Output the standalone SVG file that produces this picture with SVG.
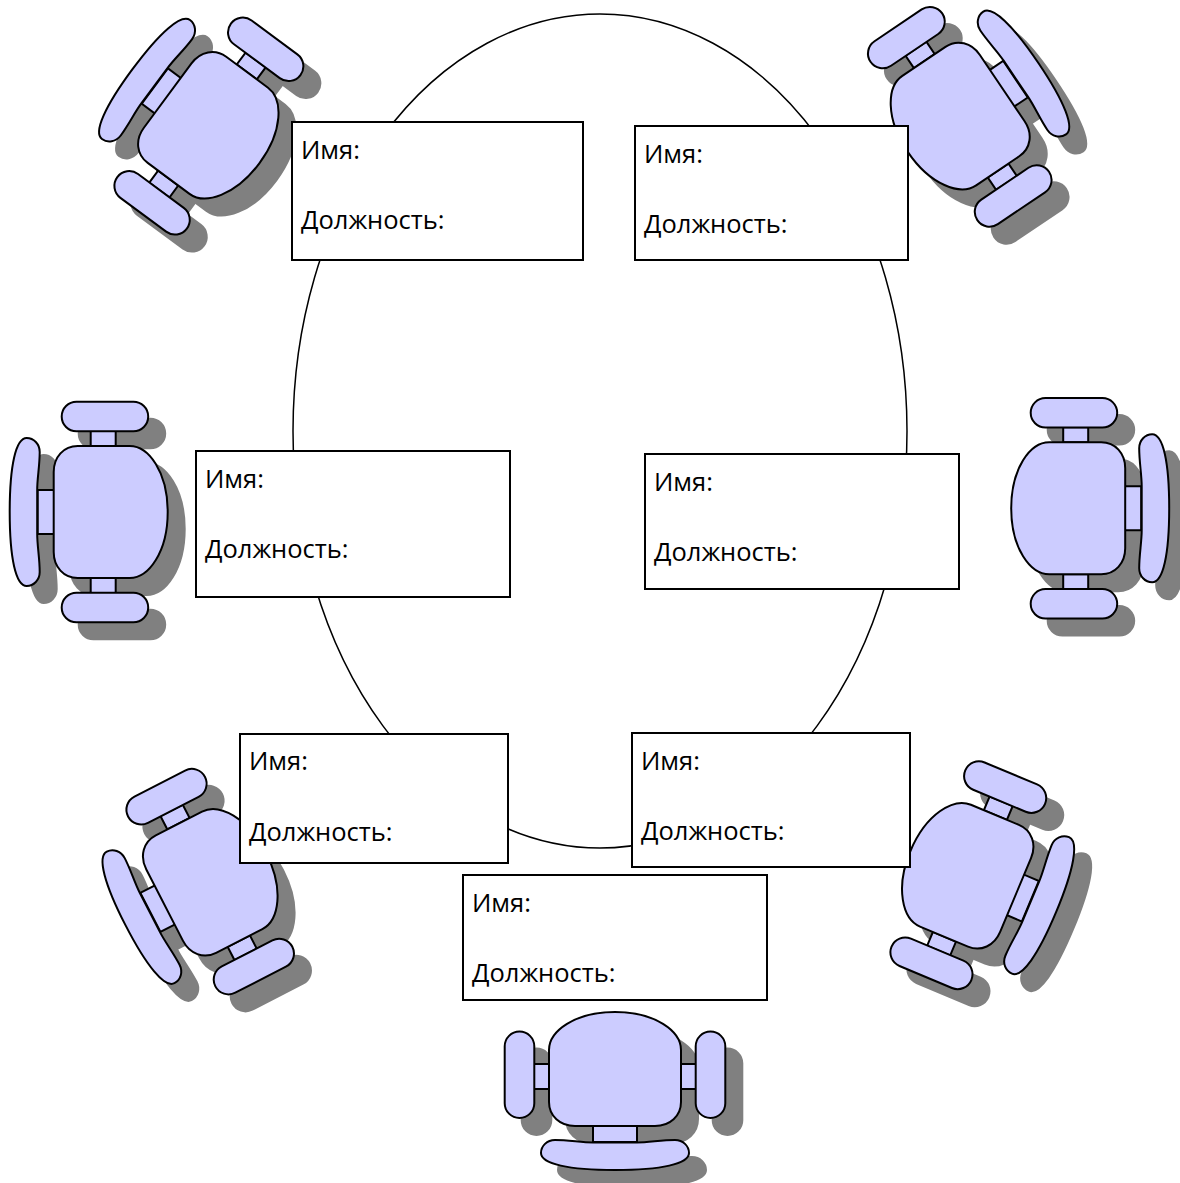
<svg xmlns="http://www.w3.org/2000/svg" width="1180" height="1183" viewBox="0 0 1180 1183">
<style>
.t{font-family:"Open Sans","Noto Sans","Liberation Sans",sans-serif;font-size:25.5px;fill:#000}
.b{fill:#fff;stroke:#000;stroke-width:2}
.c{fill:#ccf;stroke:#000;stroke-width:2;stroke-linejoin:round}
.s{fill:#808080;stroke:#808080;stroke-width:2}
</style>
<defs>
<g id="shape">
<rect x="-81" y="-5" width="15" height="25"/>
<rect x="66" y="-5" width="15" height="25"/>
<rect x="-22" y="56" width="44" height="17"/>
<rect x="-110.3" y="-37.5" width="29.6" height="86.5" rx="14.8"/>
<rect x="80.7" y="-37.5" width="29.6" height="86.5" rx="14.8"/>
<path d="M-66,-19C-66,-38 -40,-57 0,-57C40,-57 66,-38 66,-19L66,33C66,47 55,57 40,57L-40,57C-55,57 -66,47 -66,33Z"/>
<path d="M-60,71C-46,71 -34,73.5 -22,73.5L22,73.5C34,73.5 46,71 60,71C68,71 74,77 74,84C74,95 46,101 0,101C-46,101 -74,95 -74,84C-74,77 -68,71 -60,71Z"/>
</g>
</defs>
<g id="connectors"><ellipse cx="600" cy="431" rx="307" ry="417" fill="#fff" stroke="#000" stroke-width="1.5"/></g>
<g id="chair-1"><use href="#shape" class="s" transform="translate(230.5,146.5) rotate(126.5)"/><use href="#shape" class="c" transform="translate(213.5,129.5) rotate(126.5)"/></g>
<g id="chair-2"><use href="#shape" class="s" transform="translate(972,137) rotate(-124)"/><use href="#shape" class="c" transform="translate(955,120) rotate(-124)"/></g>
<g id="chair-3"><use href="#shape" class="s" transform="translate(127.7,529) rotate(90)"/><use href="#shape" class="c" transform="translate(110.7,512) rotate(90)"/></g>
<g id="chair-4"><use href="#shape" class="s" transform="translate(1085.2,525.3) rotate(-90)"/><use href="#shape" class="c" transform="translate(1068.2,508.3) rotate(-90)"/></g>
<g id="chair-5"><use href="#shape" class="s" transform="translate(232.3,896) rotate(62.8)"/><use href="#shape" class="c" transform="translate(215.3,879) rotate(62.8)"/></g>
<g id="chair-6"><use href="#shape" class="s" transform="translate(980,890) rotate(-67.3)"/><use href="#shape" class="c" transform="translate(963,873) rotate(-67.3)"/></g>
<g id="chair-7"><use href="#shape" class="s" transform="translate(632,1086)"/><use href="#shape" class="c" transform="translate(615,1069)"/></g>
<g id="box-1"><rect class="b" x="292" y="122" width="291" height="138"/><text class="t" x="301" y="159">Имя:</text><text class="t" x="301" y="229">Должность:</text></g>
<g id="box-2"><rect class="b" x="635" y="126" width="273" height="134"/><text class="t" x="644" y="163">Имя:</text><text class="t" x="644" y="233">Должность:</text></g>
<g id="box-3"><rect class="b" x="196" y="451" width="314" height="146"/><text class="t" x="205" y="488">Имя:</text><text class="t" x="205" y="558">Должность:</text></g>
<g id="box-4"><rect class="b" x="645" y="454" width="314" height="135"/><text class="t" x="654" y="491">Имя:</text><text class="t" x="654" y="561">Должность:</text></g>
<g id="box-5"><rect class="b" x="240" y="734" width="268" height="129"/><text class="t" x="249" y="770">Имя:</text><text class="t" x="249" y="841">Должность:</text></g>
<g id="box-6"><rect class="b" x="632" y="733" width="278" height="134"/><text class="t" x="641" y="770">Имя:</text><text class="t" x="641" y="840">Должность:</text></g>
<g id="box-7"><rect class="b" x="463" y="875" width="304" height="125"/><text class="t" x="472" y="912">Имя:</text><text class="t" x="472" y="982">Должность:</text></g>
</svg>
